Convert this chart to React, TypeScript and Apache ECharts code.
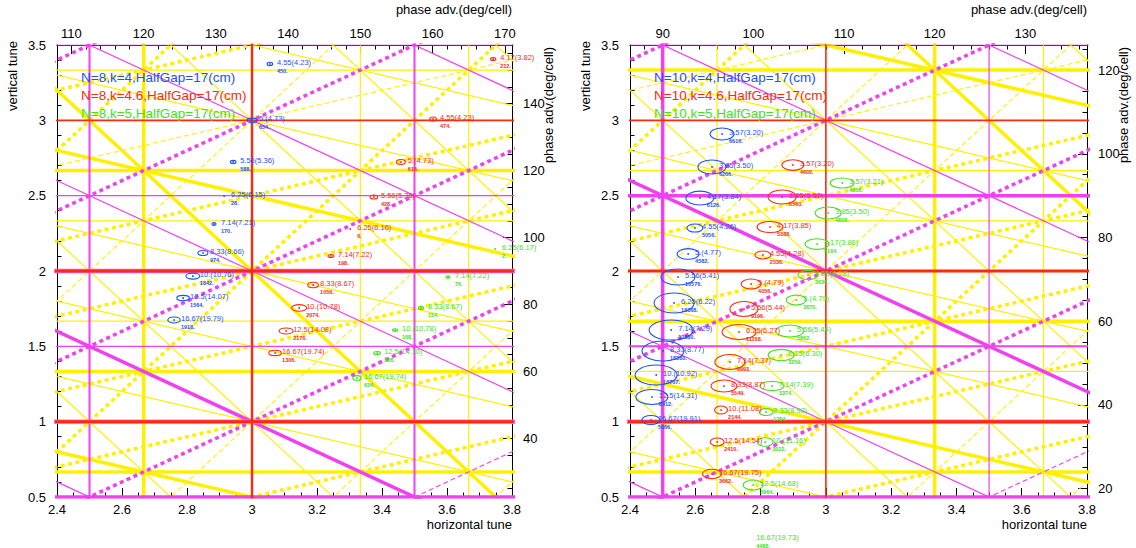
import React, { useEffect, useRef } from 'react';
import * as echarts from 'echarts';

// ---------- axes ----------
const TUNE_X_RANGE = [2.4, 3.8];
const TUNE_Y_RANGE = [0.5, 3.5];
const leftCells = 8;
const rightCells = 10;
const leftPhaseTop = [110, 120, 130, 140, 150, 160, 170];
const leftPhaseRight = [40, 60, 80, 100, 120, 140];
const rightPhaseTop = [90, 100, 110, 120, 130];
const rightPhaseRight = [20, 40, 60, 80, 100, 120];

const leftLegend = ['N=8,k=4,HalfGap=17(cm)', 'N=8,k=4.6,HalfGap=17(cm)', 'N=8,k=5,HalfGap=17(cm)'];
const rightLegend = ['N=10,k=4,HalfGap=17(cm)', 'N=10,k=4.6,HalfGap=17(cm)', 'N=10,k=5,HalfGap=17(cm)'];

// ---------- resonance lines  m*Qx + n*Qy = p ----------
const leftRedHeavy = [[0, 1, 1], [0, 1, 2]];
const leftRedMid = [[1, 0, 3]];
const leftRedLight = [[0, 1, 3]];
const leftMagHalo = [[0, 2, 2], [0, 2, 4]];
const leftMagHeavy = [[1, 1, 4], [0, 2, 1]];
const leftMagMid = [[2, 0, 5], [2, 0, 7]];
const leftMagLight = [[0, 2, 3], [0, 2, 5], [0, 2, 7], [1, 1, 3], [1, 1, 5], [1, 1, 6], [1, 1, 7]];
const leftMagDotted = [[1, -1, -1], [1, -1, 0], [1, -1, 1], [1, -1, 2]];
const leftMagDashed = [[1, -1, 3]];
const leftYelHeavy = [[3, 0, 8], [0, 3, 2], [0, 3, 4], [0, 3, 8], [2, 1, 8], [1, 2, 4], [1, 2, 8]];
const leftYelLight = [[3, 0, 10], [3, 0, 11], [0, 3, 5], [0, 3, 7], [0, 3, 10], [2, 1, 6], [2, 1, 7], [2, 1, 9], [2, 1, 10], [2, 1, 11], [1, 2, 5], [1, 2, 6], [1, 2, 7], [1, 2, 9], [1, 2, 10]];
const leftYelDotted = [[2, -1, 2], [2, -1, 4], [1, -2, -4], [1, -2, -2], [1, -2, -1], [1, -2, 0], [1, -2, 1], [1, -2, 2]];
const leftYelDashed = [[2, -1, 3], [2, -1, 5], [2, -1, 6], [2, -1, 7], [1, -2, -3]];

const rightRedHeavy = [[0, 1, 1], [0, 1, 2]];
const rightRedMid = [];
const rightRedLight = [[1, 0, 3], [0, 1, 3]];
const rightMagHalo = [[0, 2, 2]];
const rightMagHeavy = [[1, 1, 5], [2, 0, 5], [0, 2, 5], [0, 2, 1]];
const rightMagMid = [[0, 2, 3]];
const rightMagLight = [[2, 0, 7], [0, 2, 7], [1, 1, 3], [1, 1, 4], [1, 1, 6], [1, 1, 7]];
const rightMagDotted = [[1, -1, -1], [1, -1, 0], [1, -1, 1], [1, -1, 2]];
const rightMagDashed = [[1, -1, 3]];
const rightYelHeavy = [[3, 0, 10], [0, 3, 2], [0, 3, 5], [0, 3, 10], [2, 1, 10], [1, 2, 5], [1, 2, 10]];
const rightYelLight = [[3, 0, 8], [3, 0, 11], [0, 3, 4], [0, 3, 7], [0, 3, 8], [2, 1, 6], [2, 1, 7], [2, 1, 8], [2, 1, 9], [2, 1, 11], [1, 2, 4], [1, 2, 6], [1, 2, 7], [1, 2, 8], [1, 2, 9]];
const rightYelDotted = [[2, -1, 2], [2, -1, 5], [1, -2, -2], [1, -2, -1], [1, -2, 0], [1, -2, 1], [1, -2, 2]];
const rightYelDashed = [[2, -1, 3], [2, -1, 4], [2, -1, 6], [2, -1, 7], [1, -2, -4], [1, -2, -3]];

// ---------- working points: tune (Qx,Qy), tune spread (half widths), labels ----------
const leftBlueNames = ['4.55(4.23)', '5.(4.73)', '5.56(5.36)', '6.25(6.15)', '7.14(7.21)', '8.33(8.66)', '10.(10.76)', '12.5(14.07)', '16.67(19.79)'];
const leftBlueCounts = ['450.', '654.', '588.', '28.', '170.', '974.', '1842.', '1564.', '1918.'];
const leftBlueTunes = [[3.055, 3.374], [3.0, 3.0], [2.942, 2.723], [2.914, 2.498], [2.883, 2.312], [2.849, 2.119], [2.818, 1.966], [2.788, 1.82], [2.76, 1.675]];
const leftBlueSpread = [[0.0086, 0.0113], [0.0154, 0.0146], [0.0086, 0.0113], [0, 0], [0.0062, 0.01], [0.0154, 0.0166], [0.0215, 0.0199], [0.0194, 0.0179], [0.0191, 0.0199]];

const leftRedNames = ['4.17(3.82)', '4.55(4.23)', '5.(4.73)', '5.56(5.36)', '6.25(6.16)', '7.14(7.22)', '8.33(8.67)', '10.(10.78)', '12.5(14.08)', '16.67(19.74)'];
const leftRedCounts = ['212.', '474.', '616.', '428.', '6.', '198.', '1056.', '2074.', '2176.', '1306.'];
const leftRedTunes = [[3.742, 3.407], [3.557, 3.009], [3.458, 2.723], [3.375, 2.491], [3.302, 2.279], [3.243, 2.1], [3.188, 1.907], [3.145, 1.755], [3.105, 1.602], [3.071, 1.456]];
const leftRedSpread = [[0.0083, 0.01], [0.0102, 0.0133], [0.0138, 0.0166], [0.0117, 0.0133], [0, 0], [0.0092, 0.01], [0.0163, 0.0179], [0.0231, 0.0219], [0.0215, 0.0199], [0.0194, 0.0179]];

const leftGreenNames = ['6.25(6.17)', '7.14(7.22)', '8.33(8.67)', '10.(10.78)', '12.5(14.10)', '16.67(19.74)'];
const leftGreenCounts = ['2.', '76.', '154.', '168.', '328.', '634.'];
const leftGreenTunes = [[3.748, 2.146], [3.603, 1.96], [3.52, 1.754], [3.44, 1.608], [3.385, 1.456], [3.323, 1.29]];
const leftGreenSpread = [[0, 0], [0.0062, 0.0086], [0.0086, 0.01], [0.0077, 0.0086], [0.0102, 0.01], [0.0129, 0.0153]];

const rightBlueNames = ['3.57(3.20)', '3.85(3.50)', '4.17(3.84)', '4.55(4.26)', '5.(4.77)', '5.56(5.41)', '6.25(6.22)', '7.14(7.29)', '8.33(8.77)', '10.(10.92)', '12.5(14.31)', '16.67(19.91)'];
const rightBlueCounts = ['6616.', '6266.', '6126.', '5056.', '4582.', '10576.', '16368.', '12880.', '18380.', '16767.', '8912.', '5066.'];
const rightBlueTunes = [[2.682, 2.909], [2.651, 2.69], [2.614, 2.484], [2.599, 2.285], [2.578, 2.113], [2.547, 1.96], [2.535, 1.788], [2.526, 1.608], [2.501, 1.469], [2.48, 1.31], [2.467, 1.164], [2.464, 1.011]];
const rightBlueSpread = [[0.0368, 0.0398], [0.0429, 0.0464], [0.0429, 0.0464], [0.0245, 0.0265], [0.0337, 0.0352], [0.0521, 0.0531], [0.0613, 0.0664], [0.0674, 0.0664], [0.0643, 0.0664], [0.0643, 0.0664], [0.049, 0.0498], [0.0276, 0.0299]];

const rightRedNames = ['3.57(3.20)', '3.85(3.50)', '4.17(3.85)', '4.55(4.28)', '5.(4.79)', '5.56(5.44)', '6.25(6.27)', '7.14(7.37)', '8.33(8.87)', '10.(11.08)', '12.5(14.54)', '16.67(19.75)'];
const rightRedCounts = ['4602.', '6560.', '5388.', '2536.', '4056.', '9196.', '11168.', '9993.', '5549.', '2144.', '2410.', '3662.'];
const rightRedTunes = [[2.899, 2.703], [2.866, 2.491], [2.829, 2.292], [2.807, 2.106], [2.771, 1.914], [2.749, 1.748], [2.734, 1.595], [2.706, 1.396], [2.688, 1.237], [2.679, 1.077], [2.667, 0.865], [2.651, 0.653]];
const rightRedSpread = [[0.0337, 0.0352], [0.0429, 0.0464], [0.0398, 0.0365], [0.0245, 0.0265], [0.0306, 0.0332], [0.0429, 0.0498], [0.0521, 0.0498], [0.046, 0.0498], [0.0398, 0.0398], [0.0199, 0.0265], [0.0214, 0.0265], [0.0291, 0.0312]];

const rightGreenNames = ['3.57(3.21)', '3.85(3.50)', '4.17(3.86)', '4.55(4.28)', '5.(4.79)', '5.56(5.44)', '6.25(6.30)', '7.14(7.39)', '8.33(8.92)', '10.(11.16)', '12.5(14.68)', '16.67(19.73)'];
const rightGreenCounts = ['4956.', '4808.', '5164.', '3636.', '3670.', '5862.', '3259.', '3374.', '1764.', '3022.', '3964.', '4488.'];
const rightGreenTunes = [[3.05, 2.584], [3.007, 2.385], [2.973, 2.179], [2.945, 1.973], [2.909, 1.807], [2.89, 1.602], [2.863, 1.442], [2.835, 1.237], [2.817, 1.064], [2.814, 0.865], [2.777, 0.58], [2.765, 0.22]];
const rightGreenSpread = [[0.0368, 0.0332], [0.0398, 0.0398], [0.0368, 0.0352], [0.0306, 0.0299], [0.0306, 0.0332], [0.0429, 0.0398], [0.0398, 0.0378], [0.0368, 0.0299], [0.0214, 0.0232], [0.0245, 0.0285], [0.0306, 0.0332], [0.0306, 0.0332]];

// ---------- styles ----------
const FONT = '"Liberation Sans", Arial, sans-serif';
const C_RED = '#ff2a0a';
const C_MAG = '#f040f0';
const C_HALO = '#ff66ff';
const C_YEL = '#fff000';
const C_BLUE = '#1e50ff';
const C_GREEN = '#3ee21e';
const C_PT_RED = '#ff2a10';

const GRIDS = [
  { left: 57, top: 45, width: 455, height: 452 },
  { left: 630, top: 45, width: 457, height: 452 },
];

function minorList(lo: number, hi: number, step: number, majors: number[]) {
  const out: number[] = [];
  const start = Math.ceil(lo / step) * step;
  for (let v = start; v <= hi + 1e-9; v += step) {
    const r = Math.round(v * 1000) / 1000;
    if (!majors.includes(r)) out.push(r);
  }
  return out;
}

function lineSeries(list: number[][], xi: number, yi: number, color: string, width: number, type: any, z: number) {
  return list.map(([m, n, p]) => {
    let data: number[][];
    if (n === 0) {
      const x = p / m;
      data = [[x, TUNE_Y_RANGE[0] - 1], [x, TUNE_Y_RANGE[1] + 1]];
    } else {
      const xa = TUNE_X_RANGE[0] - 1;
      const xb = TUNE_X_RANGE[1] + 1;
      data = [[xa, (p - m * xa) / n], [xb, (p - m * xb) / n]];
    }
    return {
      type: 'line', xAxisIndex: xi, yAxisIndex: yi, data, symbol: 'none', showSymbol: false,
      clip: true, silent: true, z, lineStyle: { color, width, type, cap: 'butt' },
    };
  });
}

function pointSeries(tunes: number[][], spread: number[][], names: string[], counts: string[], color: string, xi: number, yi: number) {
  return [
    {
      type: 'custom', xAxisIndex: xi, yAxisIndex: yi, clip: true, silent: true, z: 6,
      data: tunes.map((t, i) => [t[0], t[1], spread[i][0], spread[i][1]]),
      renderItem: (params: any, api: any) => {
        const c = api.coord([api.value(0), api.value(1)]);
        const s = api.size([api.value(2), api.value(3)]);
        const children: any[] = [];
        if (api.value(2) > 0) {
          children.push({ type: 'ellipse', shape: { cx: c[0], cy: c[1], rx: s[0], ry: s[1] }, style: { fill: 'none', stroke: color, lineWidth: 1.1 } });
        }
        children.push({ type: 'circle', shape: { cx: c[0], cy: c[1], r: 0.9 }, style: { fill: color } });
        return { type: 'group', children };
      },
    },
    {
      type: 'custom', xAxisIndex: xi, yAxisIndex: yi, clip: false, silent: true, z: 7,
      data: tunes.map((t) => [t[0], t[1]]),
      renderItem: (params: any, api: any) => {
        const c = api.coord([api.value(0), api.value(1)]);
        const i = params.dataIndex;
        return {
          type: 'group',
          children: [
            { type: 'text', x: c[0] + 7, y: c[1] - 1.5, style: { text: names[i], fill: color, font: `7.5px ${FONT}`, align: 'left', verticalAlign: 'middle' } },
            { type: 'text', x: c[0] + 7, y: c[1] + 7, style: { text: counts[i], fill: color, font: `bold 5.5px ${FONT}`, align: 'left', verticalAlign: 'middle' } },
          ],
        };
      },
    },
  ];
}

type Panel = {
  cells: number; phaseTop: number[]; phaseRight: number[]; legend: string[];
  lines: any; points: any;
};

const panels: Panel[] = [
  {
    cells: leftCells, phaseTop: leftPhaseTop, phaseRight: leftPhaseRight, legend: leftLegend,
    lines: {
      redHeavy: leftRedHeavy, redMid: leftRedMid, redLight: leftRedLight, magHalo: leftMagHalo,
      magHeavy: leftMagHeavy, magMid: leftMagMid, magLight: leftMagLight, magDotted: leftMagDotted, magDashed: leftMagDashed,
      yelHeavy: leftYelHeavy, yelLight: leftYelLight, yelDotted: leftYelDotted, yelDashed: leftYelDashed,
    },
    points: [
      [leftBlueTunes, leftBlueSpread, leftBlueNames, leftBlueCounts, C_BLUE],
      [leftRedTunes, leftRedSpread, leftRedNames, leftRedCounts, C_PT_RED],
      [leftGreenTunes, leftGreenSpread, leftGreenNames, leftGreenCounts, C_GREEN],
    ],
  },
  {
    cells: rightCells, phaseTop: rightPhaseTop, phaseRight: rightPhaseRight, legend: rightLegend,
    lines: {
      redHeavy: rightRedHeavy, redMid: rightRedMid, redLight: rightRedLight, magHalo: rightMagHalo,
      magHeavy: rightMagHeavy, magMid: rightMagMid, magLight: rightMagLight, magDotted: rightMagDotted, magDashed: rightMagDashed,
      yelHeavy: rightYelHeavy, yelLight: rightYelLight, yelDotted: rightYelDotted, yelDashed: rightYelDashed,
    },
    points: [
      [rightBlueTunes, rightBlueSpread, rightBlueNames, rightBlueCounts, C_BLUE],
      [rightRedTunes, rightRedSpread, rightRedNames, rightRedCounts, C_PT_RED],
      [rightGreenTunes, rightGreenSpread, rightGreenNames, rightGreenCounts, C_GREEN],
    ],
  },
];

function buildOption() {
  const grid: any[] = [];
  const xAxis: any[] = [];
  const yAxis: any[] = [];
  const series: any[] = [];
  const graphic: any[] = [];
  const labelStyle = { color: '#000', fontSize: 13, fontFamily: FONT };
  const axisLine = { show: true, lineStyle: { color: '#000', width: 1 } };

  panels.forEach((pn, k) => {
    const g = GRIDS[k];
    const deg = 360 / pn.cells;
    grid.push({ ...g, containLabel: false });
    grid.push({ ...g, containLabel: false });
    const gMain = 2 * k;
    const gOver = 2 * k + 1;
    const xi = xAxis.length;
    const yi = yAxis.length;
    xAxis.push({
      type: 'value', gridIndex: gMain, position: 'bottom', min: TUNE_X_RANGE[0], max: TUNE_X_RANGE[1], interval: 0.2,
      axisLine, splitLine: { show: false },
      axisTick: { show: true, inside: true, length: 9, lineStyle: { color: '#000' } },
      minorTick: { show: true, splitNumber: 4, length: 4.5, lineStyle: { color: '#000' } },
      axisLabel: { ...labelStyle, margin: 6 },
    });
    const topMin = TUNE_X_RANGE[0] * deg;
    const topMax = TUNE_X_RANGE[1] * deg;
    xAxis.push({
      type: 'value', gridIndex: gMain, position: 'top', min: topMin, max: topMax,
      axisLine, splitLine: { show: false },
      axisTick: { show: true, inside: true, length: 9, customValues: pn.phaseTop, lineStyle: { color: '#000' } },
      axisLabel: { ...labelStyle, margin: 5, customValues: pn.phaseTop },
    });
    yAxis.push({
      type: 'value', gridIndex: gMain, position: 'left', min: TUNE_Y_RANGE[0], max: TUNE_Y_RANGE[1], interval: 0.5,
      axisLine, splitLine: { show: false },
      axisTick: { show: true, inside: true, length: 9, lineStyle: { color: '#000' } },
      minorTick: { show: true, splitNumber: 5, length: 4.5, lineStyle: { color: '#000' } },
      axisLabel: { ...labelStyle, margin: 11 },
    });
    const rMin = TUNE_Y_RANGE[0] * deg;
    const rMax = TUNE_Y_RANGE[1] * deg;
    yAxis.push({
      type: 'value', gridIndex: gMain, position: 'right', min: rMin, max: rMax,
      axisLine, splitLine: { show: false },
      axisTick: { show: true, inside: true, length: 9, customValues: pn.phaseRight, lineStyle: { color: '#000' } },
      axisLabel: { ...labelStyle, margin: 11, customValues: pn.phaseRight },
    });
    xAxis.push({
      type: 'value', gridIndex: gOver, position: 'top', min: topMin, max: topMax,
      axisLine: { show: false }, splitLine: { show: false }, axisLabel: { show: false },
      axisTick: { show: true, inside: true, length: 4.5, customValues: minorList(topMin, topMax, 2, pn.phaseTop), lineStyle: { color: '#000' } },
    });
    yAxis.push({
      type: 'value', gridIndex: gOver, position: 'right', min: rMin, max: rMax,
      axisLine: { show: false }, splitLine: { show: false }, axisLabel: { show: false },
      axisTick: { show: true, inside: true, length: 4.5, customValues: minorList(rMin, rMax, 5, pn.phaseRight), lineStyle: { color: '#000' } },
    });

    const L = pn.lines;
    series.push(...lineSeries(L.yelLight, xi, yi, C_YEL, 1.2, 'solid', 2));
    series.push(...lineSeries(L.yelDashed, xi, yi, C_YEL, 1.1, [5, 3], 2));
    series.push(...lineSeries(L.yelHeavy, xi, yi, C_YEL, 3.5, 'solid', 2));
    series.push(...lineSeries(L.yelDotted, xi, yi, C_YEL, 3.5, [4, 3.5], 2));
    series.push(...lineSeries(L.magLight, xi, yi, C_MAG, 1.2, 'solid', 3));
    series.push(...lineSeries(L.magDashed, xi, yi, C_MAG, 1.1, [5, 3], 3));
    series.push(...lineSeries(L.magMid, xi, yi, C_MAG, 2, 'solid', 3));
    series.push(...lineSeries(L.magHeavy, xi, yi, C_MAG, 3.5, 'solid', 3));
    series.push(...lineSeries(L.magDotted, xi, yi, C_MAG, 3.5, [4, 3.5], 3));
    series.push(...lineSeries(L.magHalo, xi, yi, C_HALO, 4.5, 'solid', 4));
    series.push(...lineSeries(L.redHeavy, xi, yi, C_RED, 2.8, 'solid', 4));
    series.push(...lineSeries(L.redMid, xi, yi, C_RED, 2.4, 'solid', 4));
    series.push(...lineSeries(L.redLight, xi, yi, C_RED, 1.6, 'solid', 4));

    pn.points.forEach((pt: any) => {
      series.push(...pointSeries(pt[0], pt[1], pt[2], pt[3], pt[4], xi, yi));
    });

    const right = g.left + g.width;
    const bottom = g.top + g.height;
    graphic.push({ type: 'text', x: right, y: bottom + 27, style: { text: 'horizontal tune', font: `13px ${FONT}`, fill: '#000', align: 'right', verticalAlign: 'middle' } });
    graphic.push({ type: 'text', x: right, y: 9, style: { text: 'phase adv.(deg/cell)', font: `13px ${FONT}`, fill: '#000', align: 'right', verticalAlign: 'middle' } });
    graphic.push({ type: 'text', x: g.left - 45, y: g.top - 4, rotation: Math.PI / 2, style: { text: 'vertical tune', font: `13px ${FONT}`, fill: '#000', align: 'right', verticalAlign: 'middle' } });
    graphic.push({ type: 'text', x: right + 36, y: g.top + 2, rotation: Math.PI / 2, style: { text: 'phase adv.(deg/cell)', font: `13px ${FONT}`, fill: '#000', align: 'right', verticalAlign: 'middle' } });
    const legColors = [C_BLUE, C_RED, C_GREEN];
    pn.legend.forEach((t, i) => {
      graphic.push({ type: 'text', x: g.left + 24, y: 77 + i * 18, z: 10, style: { text: t, font: `13.5px ${FONT}`, fill: legColors[i], align: 'left', verticalAlign: 'middle' } });
    });
  });

  return { animation: false, backgroundColor: '#fff', grid, xAxis, yAxis, series, graphic };
}

export default function App() {
  const ref = useRef<HTMLDivElement>(null);
  useEffect(() => {
    if (!ref.current) return;
    const chart = echarts.init(ref.current, undefined, { renderer: 'svg' });
    chart.setOption(buildOption() as any);
    return () => chart.dispose();
  }, []);
  return <div ref={ref} style={{ position: 'fixed', left: 0, top: 0, width: 1136, height: 548, background: '#fff' }} />;
}
